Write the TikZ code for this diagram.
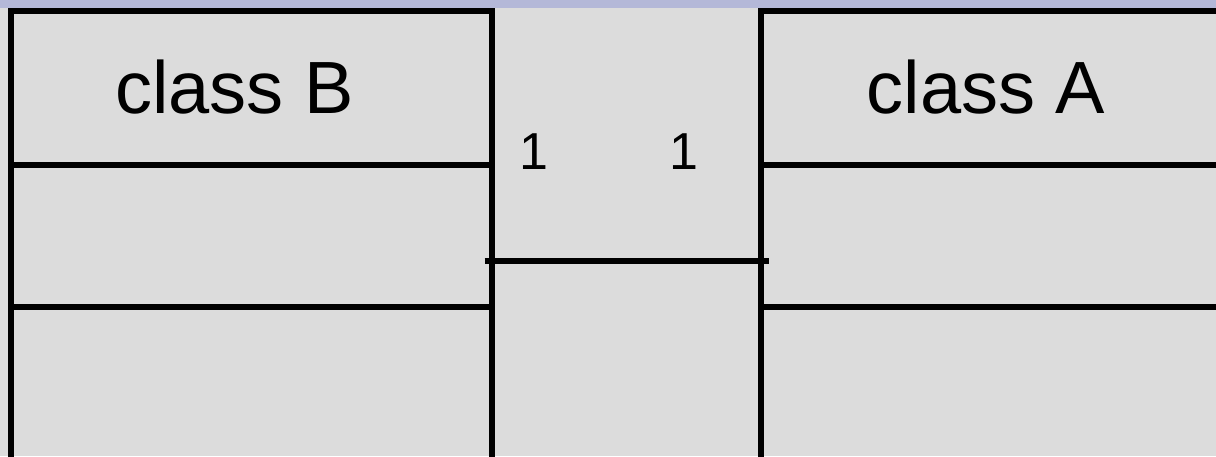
\documentclass[tikz,border=0pt]{standalone}
\usepackage{fontspec}
\setmainfont{Liberation Sans}
\definecolor{bgc}{HTML}{DCDCDC}
\definecolor{stripc}{HTML}{B4B8D8}
\tikzset{
  classbox/.style={draw=black, line width=6pt, rectangle, inner sep=0pt, outer sep=0pt, anchor=north west},
  sepline/.style={draw=black, line width=6pt},
  classname/.style={anchor=base, font=\fontsize{74}{80}\selectfont, inner sep=0pt},
  mult/.style={anchor=base, font=\fontsize{52}{56}\selectfont, inner sep=0pt},
  assoc/.style={draw=black, line width=6pt}
}
\begin{document}
\begin{tikzpicture}[x=1pt,y=-1pt]
\useasboundingbox (0,0) rectangle (1216,456);
\fill[bgc] (0,0) rectangle (1216,456);
\fill[stripc] (0,0) rectangle (1216,8);
% class B box
\node[classbox, minimum width=481.5pt, minimum height=520pt] (B) at (10.5,11) {};
\draw[sepline] ([yshift=-154pt]B.north west) -- ([yshift=-154pt]B.north east);
\draw[sepline] ([yshift=-295.7pt]B.north west) -- ([yshift=-295.7pt]B.north east);
% class A box
\node[classbox, minimum width=520pt, minimum height=520pt] (A) at (761,11) {};
\draw[sepline] ([yshift=-154pt]A.north west) -- ([yshift=-154pt]A.north east);
\draw[sepline] ([yshift=-295.7pt]A.north west) -- ([yshift=-295.7pt]A.north east);
% names
\node[classname] (nB) at (234.5,113) {class B};
\node[classname] (nA) at (986,113) {class A};
% association
\draw[assoc, shorten <=-7.5pt, shorten >=-8pt] (B.east |- 0,261) -- (A.west |- 0,261);
\node[mult] (mB) at (534,169) {1};
\node[mult] (mA) at (683.5,169) {1};
\end{tikzpicture}
\end{document}
